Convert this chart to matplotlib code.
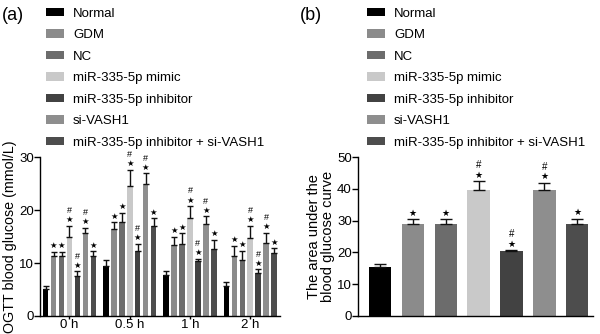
import matplotlib
matplotlib.use("Agg")
import matplotlib.pyplot as plt
from matplotlib.patches import Patch
import numpy as np

plt.rcParams['font.family'] = ['Liberation Sans', 'DejaVu Sans']

groups = ["Normal", "GDM", "NC", "miR-335-5p mimic", "miR-335-5p inhibitor",
          "si-VASH1", "miR-335-5p inhibitor + si-VASH1"]
colors = ["#000000", "#8b8b8b", "#6c6c6c", "#c9c9c9", "#424242", "#8e8e8e", "#4d4d4d"]

timepoints = ["0 h", "0.5 h", "1 h", "2 h"]
# OGTT blood glucose (mmol/L): rows = groups, columns = time points
ogtt_mean = [
    [5.1, 9.5, 7.7, 5.7],
    [11.3, 16.4, 13.4, 11.4],
    [11.4, 17.8, 13.6, 10.6],
    [14.9, 24.5, 18.4, 14.7],
    [7.5, 12.2, 10.4, 8.1],
    [15.7, 25.0, 17.4, 13.8],
    [11.3, 16.9, 12.6, 11.9],
]
ogtt_sd = [
    [0.6, 1.0, 0.7, 0.8],
    [0.8, 1.3, 1.5, 1.9],
    [0.7, 1.7, 2.0, 1.7],
    [2.1, 3.1, 2.3, 2.3],
    [0.9, 1.4, 0.4, 0.7],
    [0.9, 1.9, 1.4, 1.9],
    [0.9, 1.5, 1.8, 0.9],
]
# significance marks per group (same at every time point)
marks = ["", "*", "*", "*#", "*#", "*#", "*"]

auc_mean = [15.4, 28.9, 28.9, 39.6, 20.4, 39.7, 29.0]
auc_sd = [1.0, 1.5, 1.5, 2.8, 0.3, 2.2, 1.5]

fig = plt.figure(figsize=(6.0, 3.34), dpi=100)
ax1 = fig.add_axes([40 / 600, 1 - 316 / 334, 240 / 600, 159 / 334])
ax2 = fig.add_axes([358 / 600, 1 - 316 / 334, 235 / 600, 159 / 334])


def annotate(ax, x, top, mark, fs):
    if "*" in mark:
        ax.annotate("\u2605", (x, top), xytext=(0, 1.2), textcoords="offset points",
                    ha="center", va="bottom", fontsize=fs, family="DejaVu Sans")
    if "#" in mark:
        ax.annotate("#", (x, top), xytext=(0, 7.8), textcoords="offset points",
                    ha="center", va="bottom", fontsize=fs + 0.5)


# panel (a): grouped bars
gstep = 7.6
for i, (name, c) in enumerate(zip(groups, colors)):
    xs = np.arange(len(timepoints)) * gstep + (i - 3)
    ax1.bar(xs, ogtt_mean[i], width=0.7, color=c, label=name)
    ax1.errorbar(xs, ogtt_mean[i], yerr=[np.zeros(len(xs)), ogtt_sd[i]], fmt="none",
                 ecolor="#111111", elinewidth=1.0, capsize=2.2, capthick=1.0)
    for x, m, s in zip(xs, ogtt_mean[i], ogtt_sd[i]):
        annotate(ax1, x, m + s, marks[i], 6)

ax1.set_xlim(-3.72, 3 * gstep + 3.75)
ax1.set_ylim(0, 30)
ax1.set_yticks([0, 10, 20, 30])
ax1.set_xticks(np.arange(len(timepoints)) * gstep)
ax1.set_xticklabels(timepoints)
ax1.set_ylabel("OGTT blood glucose (mmol/L)", fontsize=10.3, labelpad=1)

# panel (b): area under curve
xb = np.arange(len(groups))
ax2.bar(xb, auc_mean, width=0.68, color=colors)
ax2.errorbar(xb, auc_mean, yerr=[np.zeros(len(xb)), auc_sd], fmt="none",
             ecolor="#111111", elinewidth=1.0, capsize=4.3, capthick=1.0)
for x, m, s, mk in zip(xb, auc_mean, auc_sd, marks):
    annotate(ax2, x, m + s, mk, 6.5)
ax2.set_xlim(-0.67, 6.48)
ax2.set_ylim(0, 50)
ax2.set_yticks([0, 10, 20, 30, 40, 50])
ax2.set_xticks([])
ax2.set_ylabel("The area under the\nblood glucose curve", fontsize=10.5, labelpad=1,
               linespacing=1.0)

for ax in (ax1, ax2):
    for side in ("top", "right"):
        ax.spines[side].set_visible(False)
    for side in ("left", "bottom"):
        ax.spines[side].set_linewidth(1.0)
    ax.tick_params(axis="y", labelsize=9.5, length=4, width=1.0, pad=0.5)
    ax.tick_params(axis="x", labelsize=9.5, length=2.5, width=1.0, pad=0)

handles = [Patch(facecolor=c, edgecolor="none", label=g) for g, c in zip(groups, colors)]
for x0 in (46 / 600, 367 / 600):
    fig.legend(handles=handles, loc="upper left", bbox_to_anchor=(x0, 0.977),
               frameon=False, fontsize=9.5, borderpad=0, borderaxespad=0,
               handlelength=1.36, handleheight=0.58, handletextpad=0.68,
               labelspacing=0.72)

fig.text(2 / 600, 1 - 15 / 334, "(a)", fontsize=13, va="center", ha="left")
fig.text(300 / 600, 1 - 15 / 334, "(b)", fontsize=13, va="center", ha="left")

fig.savefig("out.png", dpi=100)
